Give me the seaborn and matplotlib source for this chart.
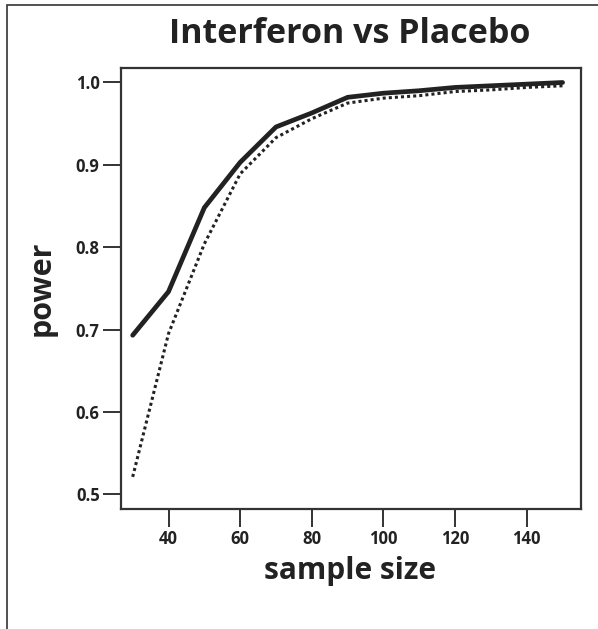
import matplotlib
matplotlib.use("Agg")
import matplotlib.pyplot as plt
import seaborn as sns
import pandas as pd
from matplotlib.patches import Rectangle

sample_size = [30, 40, 50, 60, 70, 80, 90, 100, 110, 120, 130, 140, 150]
power_solid = [0.693, 0.746, 0.848, 0.903, 0.946, 0.963, 0.982, 0.987, 0.990, 0.994, 0.996, 0.998, 1.000]
power_dotted = [0.521, 0.695, 0.804, 0.889, 0.933, 0.956, 0.975, 0.981, 0.984, 0.989, 0.991, 0.994, 0.996]
x_ticks = [40, 60, 80, 100, 120, 140]
y_ticks = [0.5, 0.6, 0.7, 0.8, 0.9, 1.0]

sns.set_style("white")
plt.rcParams['font.family'] = ['Open Sans', 'DejaVu Sans']

fig = plt.figure(figsize=(5.98, 6.29), dpi=100)
ax = fig.add_axes([120.5/598, 1 - 509/629, 460/598, 441/629])

df1 = pd.DataFrame({"x": sample_size, "y": power_solid})
df2 = pd.DataFrame({"x": sample_size, "y": power_dotted})
sns.lineplot(data=df2, x="x", y="y", ax=ax, color="#222222", lw=2.2,
             linestyle=(0, (1, 1.0)))
sns.lineplot(data=df1, x="x", y="y", ax=ax, color="#222222", lw=3.4)

ax.set_xlim(26.6, 155.0)
ax.set_ylim(0.482, 1.0176)
ax.set_xticks(x_ticks)
ax.set_yticks(y_ticks)
ax.set_yticklabels([f"{v:.1f}" for v in y_ticks])
ax.tick_params(axis="both", direction="out", length=13, width=1.4, color="#333333",
               labelsize=12, labelcolor="#222222", pad=2, bottom=True, left=True)
for lab in ax.get_xticklabels() + ax.get_yticklabels():
    lab.set_fontweight("bold")
for s in ax.spines.values():
    s.set_color("#333333")
    s.set_linewidth(1.6)

ax.set_xlabel("sample size", fontsize=21.5, fontweight="bold", color="#222222", labelpad=6)
ax.set_ylabel("power", fontsize=22, fontweight="bold", color="#222222", labelpad=14)
fig.text(350/598, 1 - 34/629, "Interferon vs Placebo", ha="center", va="center",
         fontsize=24.5, fontweight="bold", color="#222222")

fig.patches.append(Rectangle((7/598, -0.1), 1.2, 1 - 5/629 + 0.1, transform=fig.transFigure,
                             fill=False, edgecolor="#333333", lw=1.2))

fig.savefig("out.png", dpi=100)
